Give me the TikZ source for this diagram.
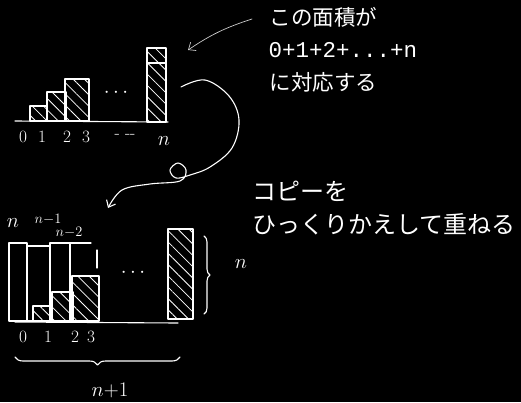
\documentclass[tikz,border=0pt]{standalone}
\usepackage{fontspec}
\newfontfamily\jpfont{Noto Sans CJK JP}
\newfontfamily\codefont{Liberation Mono}
\usetikzlibrary{arrows.meta,patterns.meta,decorations.pathreplacing}

\begin{document}
\begin{tikzpicture}[>={Straight Barb[length=6pt,width=10pt]}, x=1pt, y=-1pt,
  chalk/.style={white, line width=1.1pt, line cap=round, line join=round},
  hatched/.style={chalk, pattern={Lines[angle=-45,distance=8pt,line width=0.8pt]}, pattern color=white},
  lbl/.style={white, font=\LARGE},
  jp/.style={white, anchor=west, font=\jpfont\fontsize{21.5}{25}\selectfont}]
  \fill[black] (0,0) rectangle (521,402);
  % upper staircase
  \draw[chalk] (15,121) -- (168,122);
  \draw[hatched] (30,121) rectangle (47,106);
  \draw[hatched] (47,121) rectangle (66,92);
  \draw[hatched] (65,121) rectangle (89,79);
  \draw[hatched] (147,122) rectangle (166,48);
  \draw[chalk] (147,63) -- (166,63);
  \node[lbl, font=\huge] (dotsa) at (116,93) {$\cdots$};
  \node[lbl] (a0) at (23,137) {0};
  \node[lbl] (a1) at (42,137) {1};
  \node[lbl] (a2) at (67,137) {2};
  \node[lbl] (a3) at (86,137) {3};
  \node[lbl] (adots) at (125,136) {- -{}-};
  \node[lbl, font=\huge] (an) at (164,141) {$n$};
  % texts
  \node[jp] (area) at (266,17) {この面積が};
  \node[jp, font=\codefont\fontsize{22.5}{26}\selectfont] (sum) at (265,50) {0+1+2+...+n};
  \node[jp] (match) at (266,82) {に対応する};
  \node[jp, font=\jpfont\fontsize{24}{28}\selectfont] (copy) at (249,191) {コピーを};
  \node[jp, font=\jpfont\fontsize{24}{28}\selectfont] (flip) at (249,224) {ひっくりかえして重ねる};
  \coordinate (bartop) at (188,50);
  \draw[chalk, line width=0.7pt, white!80!black, ->] ([xshift=-14pt,yshift=-2pt]area.west) to[bend right=8] (bartop);
  % curly arrow
  \draw[chalk, ->] plot[smooth, tension=0.6] coordinates {(181,87) (205,80) (229,96) (239,120)
    (232,148) (210,167) (190,175) (176,178) (170,170) (178,163) (186,170) (180,181)
    (150,184) (122,190) (108,208)};
  % lower picture
  \draw[chalk] (15,322) -- (178,323);
  \draw[chalk] (9,243) rectangle (27,321);
  \draw[chalk] (27,246) rectangle (50,321);
  \draw[chalk] (50,243) rectangle (70,321);
  \draw[chalk] (70,321) -- (70,243) -- (91,243);
  \draw[chalk] (97,250) -- (97,268);
  \draw[hatched] (33,321) rectangle (52,306);
  \draw[hatched] (52,321) rectangle (73,292);
  \draw[hatched] (72,321) rectangle (99,276);
  \draw[hatched] (168,319) rectangle (193,229);
  \node[lbl, font=\huge] (dotsb) at (133,273) {$\cdots$};
  \node[lbl, font=\huge] (bn) at (13,223) {$n$};
  \node[lbl, font=\Large] (bn1) at (48,219) {$n{-}1$};
  \node[lbl, font=\Large] (bn2) at (69,232) {$n{-}2$};
  \node[lbl] (b0) at (23,337) {0};
  \node[lbl] (b1) at (48,337) {1};
  \node[lbl] (b2) at (75,337) {2};
  \node[lbl] (b3) at (91,337) {3};
  \draw[chalk, decorate, decoration={brace, amplitude=6pt}] (204,236) -- (204,314);
  \node[lbl, font=\huge] (side) at (241,264) {$n$};
  \draw[chalk, decorate, decoration={brace, mirror, amplitude=8pt}] (15,357) -- (180,357);
  \node[lbl, font=\huge] (width) at (110,390) {$n{+}1$};
\end{tikzpicture}
\end{document}
